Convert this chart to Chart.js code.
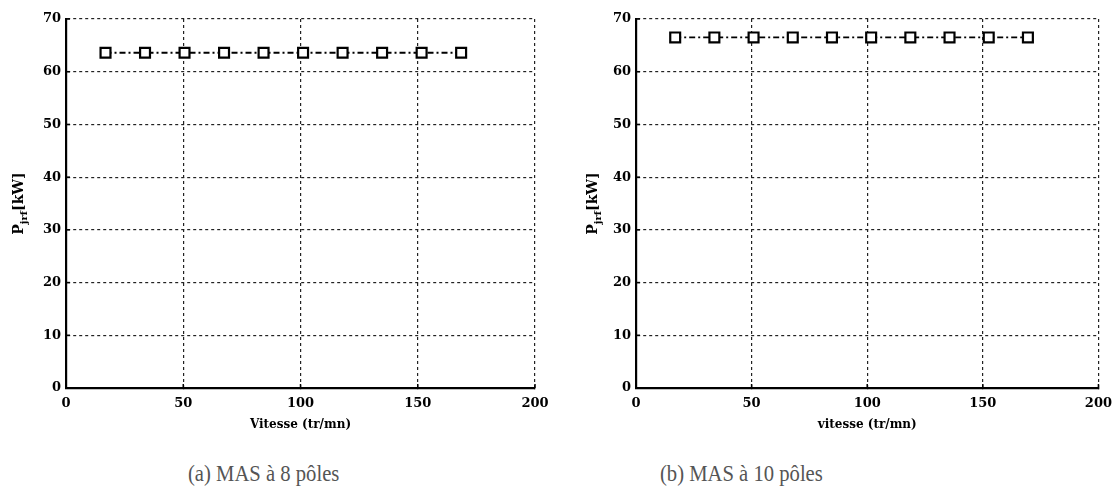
<!DOCTYPE html>
<html><head><meta charset="utf-8">
<script src="https://cdn.jsdelivr.net/npm/chart.js@4/dist/chart.umd.min.js"></script>
<style>
html,body{margin:0;padding:0;background:#fff;width:1120px;height:488px;overflow:hidden;}
.wrap{position:absolute;top:0;width:560px;height:440px;}
.cap{position:absolute;top:460px;font-family:"Liberation Serif",serif;font-size:24px;color:#555;white-space:nowrap;transform:scaleX(0.86);transform-origin:0 0;}
</style></head>
<body>
<div class="wrap" style="left:0"><canvas id="c1" width="560" height="440"></canvas></div>
<div class="wrap" style="left:560px"><canvas id="c2" width="560" height="440"></canvas></div>
<div class="cap" style="left:188px">(a) MAS à 8 pôles</div>
<div class="cap" style="left:660px">(b) MAS à 10 pôles</div>
<script>
const speeds8 = [16.85, 33.7, 50.55, 67.4, 84.25, 101.1, 117.95, 134.8, 151.65, 168.5];
const power8 = [63.6, 63.6, 63.6, 63.6, 63.6, 63.6, 63.6, 63.6, 63.6, 63.6];
const speeds10 = [16.95, 33.9, 50.85, 67.8, 84.75, 101.7, 118.65, 135.6, 152.55, 169.5];
const power10 = [66.5, 66.5, 66.5, 66.5, 66.5, 66.5, 66.5, 66.5, 66.5, 66.5];
const xTicks = [0, 50, 100, 150, 200];
const yTicks = [0, 10, 20, 30, 40, 50, 60, 70];
const xTitle8 = 'Vitesse (tr/mn)';
const xTitle10 = 'vitesse (tr/mn)';
const yMain = 'P', ySub = 'jrf', yUnit = '[kW]';

Chart.defaults.font.family = '"DejaVu Serif", serif';
Chart.defaults.font.weight = 'bold';
Chart.defaults.font.size = 13;
Chart.defaults.color = '#000';

const yLabelPlugin = {
  id: 'ylab',
  afterDraw(chart, args, opts) {
    const ctx = chart.ctx, ca = chart.chartArea;
    const xs = chart.scales.x, ys = chart.scales.y;
    ctx.save();
    ctx.strokeStyle = '#000'; ctx.lineWidth = 1.5; ctx.setLineDash([]);
    xTicks.forEach(v => { const p = xs.getPixelForValue(v); if (v>0) { ctx.beginPath(); ctx.moveTo(p, ca.bottom); ctx.lineTo(p, ca.bottom-4); ctx.stroke(); }});
    yTicks.forEach(v => { const p = ys.getPixelForValue(v); if (v>0) { ctx.beginPath(); ctx.moveTo(ca.left, p); ctx.lineTo(ca.left+4, p); ctx.stroke(); }});
    const cx = ca.left - opts.offset, cy = (ca.top + ca.bottom) / 2;
    ctx.translate(cx, cy); ctx.rotate(-Math.PI/2);
    ctx.fillStyle = '#000';
    ctx.textBaseline = 'alphabetic';
    const fMain = 'bold 14px "DejaVu Serif"', fSub = 'bold 10px "DejaVu Serif"';
    ctx.font = fMain; const w1 = ctx.measureText(yMain).width, w3 = ctx.measureText(yUnit).width;
    ctx.font = fSub; const w2 = ctx.measureText(ySub).width;
    let x = -(w1 + w2 + w3) / 2;
    ctx.font = fMain; ctx.fillText(yMain, x, 5); x += w1;
    ctx.font = fSub; ctx.fillText(ySub, x, 9); x += w2;
    ctx.font = fMain; ctx.fillText(yUnit, x, 5);
    ctx.restore();
  }
};

function makeChart(id, xs, ys, xTitle, yWidth, rightPad, yOffset) {
  new Chart(document.getElementById(id), {
    type: 'scatter',
    data: { datasets: [{
      data: xs.map((v, i) => ({x: v, y: ys[i]})),
      showLine: true,
      borderColor: '#000', borderWidth: 1.8, borderDash: [6, 3, 2, 3],
      pointStyle: 'rect', pointRadius: 7, pointBorderWidth: 2.2,
      pointBackgroundColor: '#fff', pointBorderColor: '#000'
    }]},
    options: {
      responsive: false, animation: false,
      layout: { padding: { top: 19, right: rightPad, left: 0, bottom: 0 } },
      plugins: { legend: { display: false }, tooltip: { enabled: false }, ylab: { offset: yOffset } },
      scales: {
        x: {
          type: 'linear', min: 0, max: 200,
          afterBuildTicks: s => { s.ticks = xTicks.map(v => ({value: v})); },
          ticks: { padding: 8, font: { size: 13, weight: 'bold' } },
          grid: { color: ctx => ctx.tick && ctx.tick.value === 0 ? 'rgba(0,0,0,0)' : '#222', lineWidth: 1.2, tickLength: 0 },
          border: { display: true, color: '#000', width: 2.2, dash: [3, 3] },
          title: { display: true, text: xTitle, padding: { top: 3, bottom: 8 }, font: { size: 12, weight: 'bold' } },
          afterFit: s => { s.height = 52; }
        },
        y: {
          min: 0, max: 70,
          afterBuildTicks: s => { s.ticks = yTicks.map(v => ({value: v})); },
          ticks: { padding: 5, font: { size: 13, weight: 'bold' } },
          grid: { color: ctx => ctx.tick && ctx.tick.value === 0 ? 'rgba(0,0,0,0)' : '#222', lineWidth: 1.2, tickLength: 0 },
          border: { display: true, color: '#000', width: 2.2, dash: [3, 3] },
          afterFit: s => { s.width = yWidth; }
        }
      }
    },
    plugins: [yLabelPlugin]
  });
}
makeChart('c1', speeds8, power8, xTitle8, 66, 25, 48);
makeChart('c2', speeds10, power10, xTitle10, 76, 14, 44);
</script>
</body></html>
